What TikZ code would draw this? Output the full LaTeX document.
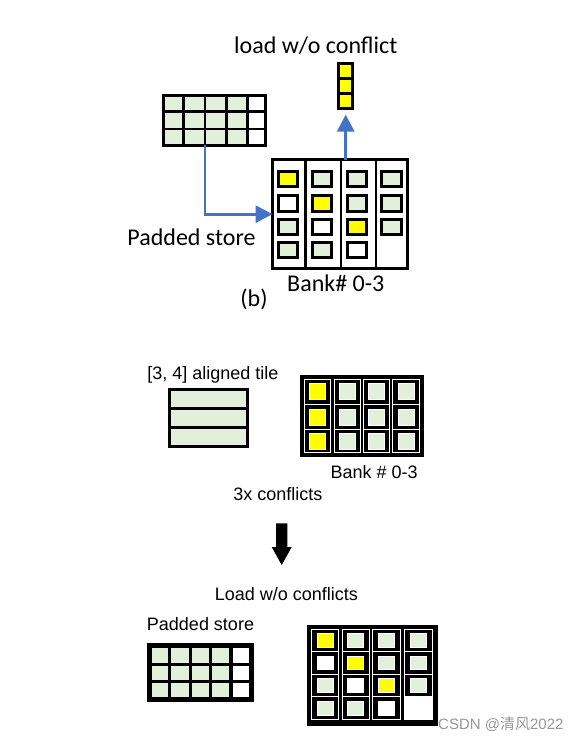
\documentclass[tikz,border=0pt]{standalone}
\usepackage{fontspec}
\newfontfamily\calfnt{Carlito}
\newfontfamily\arifnt{Liberation Sans}
\newfontfamily\cjkfnt{Noto Sans CJK SC}
\usetikzlibrary{arrows.meta}
\definecolor{lg}{RGB}{226,239,218}
\definecolor{yl}{RGB}{255,255,0}
\definecolor{ob}{RGB}{68,114,196}
\definecolor{wm}{RGB}{150,150,150}
\begin{document}
\begin{tikzpicture}[x=1pt,y=-1pt,
  lblb/.style={font=\calfnt\fontsize{24}{28}\selectfont, inner sep=0, anchor=base},
  lbla/.style={font=\arifnt\fontsize{18}{21}\selectfont, inner sep=0, anchor=base},
  box/.style={draw=black, inner sep=0, outer sep=0},
  cellb/.style={draw=black, line width=3pt, minimum width=19.6pt, minimum height=15.3pt, inner sep=0},
  sq/.style={draw=white, line width=0.5pt, inner sep=0},
  barrow/.style={draw=ob, line width=2.9pt, -{Triangle[width=17pt,length=17pt]}},
]
\useasboundingbox (0,0) rectangle (581,744);

% ---------- part (b) ----------
\node[lblb] (t1) at (315.8,53) {load w/o conflict};
\node[lblb] (t2) at (191.5,245) {Padded store};
\node[lblb] (t3) at (335.8,291) {Bank\# 0-3};
\node[lblb] (t4) at (254,306) {(b)};

% yellow column
\node[box, fill=yl, line width=2.9pt, minimum width=13.8pt, minimum height=44.8pt] (Y1) at (345.7,86.2) {};
\draw[line width=2.8pt] (338.6,78.5) -- (352.8,78.5) (338.6,93.5) -- (352.8,93.5);

% padded tile
\node[box, line width=3pt, minimum width=101.7pt, minimum height=49.7pt] (T1) at (214.5,120.35) {};
\fill[lg] (163.5,95.3) rectangle (247.7,145.4);
\fill[white] (247.7,95.3) rectangle (265.5,145.4);
\draw[line width=2.5pt] (183.5,95.3) -- (183.5,145.4) (205,95.3) -- (205,145.4) (226.5,95.3) -- (226.5,145.4);
\draw[line width=2.9pt] (247.7,95.3) -- (247.7,145.4);
\draw[line width=2.7pt] (163.5,111.7) -- (265.5,111.7) (163.5,129) -- (265.5,129);
\draw[line width=3pt] (T1.north west) rectangle (T1.south east);

% bank
\node[box, line width=3pt, minimum width=135pt, minimum height=108.7pt] (B1) at (340,214.15) {};
\draw[line width=2.5pt] (305.7,159.6) -- (305.7,268.7) (341,159.6) -- (341,268.7) (376,159.6) -- (376,268.7);
\foreach \cx/\c [count=\k] in {288/yl,322/lg,357/lg,391.3/lg}
  \node[cellb, fill=\c] (ba\k) at (\cx,179.2) {};
\foreach \cx/\c [count=\k] in {288/white,322/yl,357/lg,391.3/lg}
  \node[cellb, fill=\c] (bb\k) at (\cx,203.5) {};
\foreach \cx/\c [count=\k] in {288/lg,322/white,357/yl,391.3/lg}
  \node[cellb, fill=\c] (bc\k) at (\cx,227.2) {};
\foreach \cx/\c [count=\k] in {288/lg,322/lg,357/white}
  \node[cellb, fill=\c] (bd\k) at (\cx,250.2) {};

\draw[barrow] ([xshift=-9.5pt]T1.south) |- (B1.west);
\draw[barrow, shorten >=6pt] (B1.north -| Y1.south) -- (Y1.south);

% ---------- lower part ----------
\node[lbla] (u1) at (212.8,379) {[3, 4] aligned tile};
\node[lbla] (u2) at (374.2,478.3) {Bank \# 0-3};
\node[lbla] (u3) at (277.8,500) {3x conflicts};
\node[lbla] (u4) at (286.3,600.7) {Load w/o conflicts};
\node[lbla] (u5) at (200.5,630.7) {Padded store};
\node[font=\arifnt\fontsize{15}{18}\selectfont, text=wm, anchor=base, inner sep=0] (wmk) at (500.8,729) {CSDN @{\cjkfnt 清风}2022};

% aligned tile
\node[box, fill=lg, line width=3pt, minimum width=77.7pt, minimum height=57.7pt] (T2) at (208.6,418) {};
\draw[line width=3pt] (169.6,408.3) -- (247.6,408.3) (169.6,427.3) -- (247.6,427.3);

% bank with conflicts
\node[box, fill=black, minimum width=123.3pt, minimum height=81pt] (B2) at (361.65,415.5) {};
\foreach \xa/\xb in {304/330.7,334/360,363.3/389.3,392.7/419.3}{
  \draw[white, line width=0.8pt] (\xa,379) rectangle (\xb,452.7);
  \draw[white, line width=0.8pt] (\xa,404.3) -- (\xb,404.3) (\xa,429.3) -- (\xb,429.3);
}
\foreach \cy [count=\r] in {391.7,416.8,441}{
  \node[sq, fill=yl, minimum width=16pt, minimum height=16pt] (qa\r) at (317.3,\cy) {};
  \foreach \cx [count=\k] in {347,376.3,406}
    \node[sq, fill=lg, minimum width=16pt, minimum height=16pt] (qb\r\k) at (\cx,\cy) {};
}

% black arrow
\coordinate (ar1) at (281.7,523.3);
\coordinate (ar2) at (281.7,565);
\fill[black] (276,523.3) -- (287.4,523.3) -- (287.4,547) -- (291.7,547) -- (ar2) -- (271.7,547) -- (276,547) -- cycle;

% padded tile lower
\node[box, fill=black, minimum width=105.4pt, minimum height=57.4pt] (T3) at (200,672) {};
\foreach \xa/\xb/\c in {151.5/168/lg,171/188.5/lg,191.5/208.5/lg,211.5/228.5/lg,232.5/249/white}
  \foreach \ya/\yb in {647.5/662.5,665.5/680,683/697}
    \fill[\c] (\xa,\ya) rectangle (\xb,\yb);

% bank padded lower
\node[box, fill=black, minimum width=130pt, minimum height=100pt] (B3) at (371.7,674.7) {};
\fill[white] (404.3,696.3) rectangle (432.7,719.7);
\foreach \xa/\xb in {311.7/338.3,342.3/369,372.3/400,404.3/432.7}{
  \draw[white, line width=0.8pt] (\xa,629) rectangle (\xb,719.7);
  \draw[white, line width=0.8pt] (\xa,651.3) -- (\xb,651.3) (\xa,674) -- (\xb,674) (\xa,696.3) -- (\xb,696.3);
}
\foreach \cx/\c [count=\k] in {325/yl,355.7/lg,386.2/lg,418.5/lg}
  \node[sq, fill=\c, minimum width=16pt, minimum height=13.5pt] (pa\k) at (\cx,640.2) {};
\foreach \cx/\c [count=\k] in {325/white,355.7/yl,386.2/lg,418.5/lg}
  \node[sq, fill=\c, minimum width=16pt, minimum height=13.5pt] (pb\k) at (\cx,662.7) {};
\foreach \cx/\c [count=\k] in {325/lg,355.7/white,386.2/yl,418.5/lg}
  \node[sq, fill=\c, minimum width=16pt, minimum height=13.5pt] (pc\k) at (\cx,685.2) {};
\foreach \cx/\c [count=\k] in {325/lg,355.7/lg,386.2/white}
  \node[sq, fill=\c, minimum width=16pt, minimum height=13.5pt] (pd\k) at (\cx,708) {};
\end{tikzpicture}
\end{document}
